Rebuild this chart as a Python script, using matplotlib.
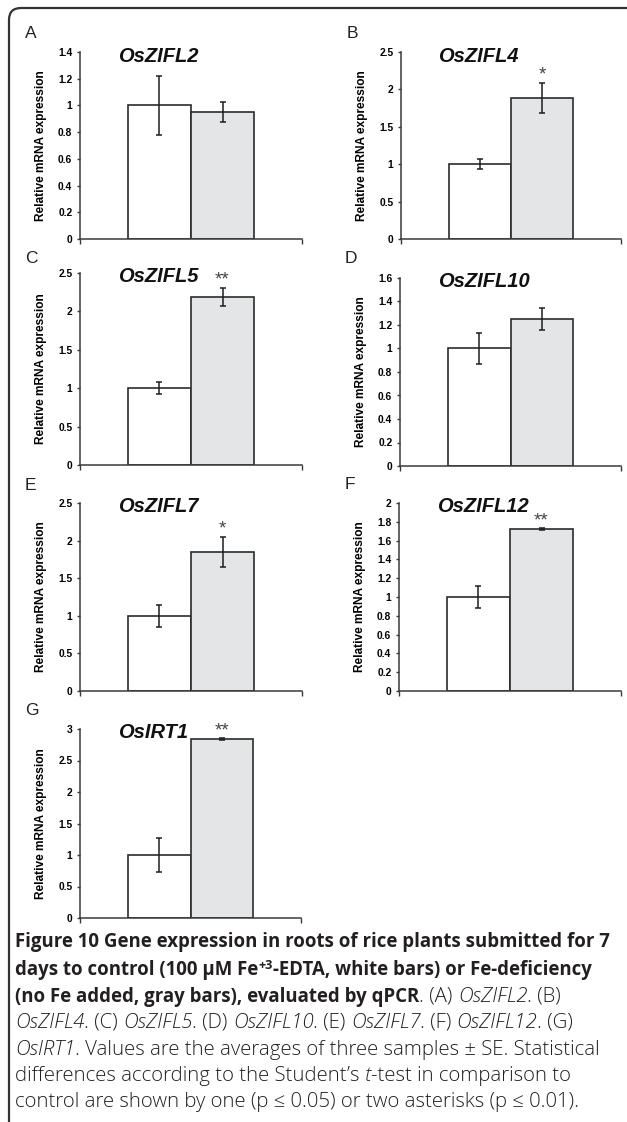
import numpy as np
import matplotlib
matplotlib.use("Agg")
import matplotlib.pyplot as plt
from matplotlib.path import Path
from matplotlib.patches import PathPatch
from matplotlib.font_manager import FontProperties

# ---------------- data ----------------
genes = ["OsZIFL2", "OsZIFL4", "OsZIFL5", "OsZIFL10", "OsZIFL7", "OsZIFL12", "OsIRT1"]
panel_letters = ["A", "B", "C", "D", "E", "F", "G"]
control_mean = [1.0, 1.0, 1.0, 1.0, 1.0, 1.0, 1.0]
control_se = [0.22, 0.07, 0.08, 0.13, 0.15, 0.12, 0.27]
deficiency_mean = [0.95, 1.89, 2.19, 1.25, 1.85, 1.72, 2.84]
deficiency_se = [0.075, 0.20, 0.12, 0.095, 0.20, 0.01, 0.01]
significance = ["", "*", "**", "", "*", "**", "**"]
y_max = [1.4, 2.5, 2.5, 1.6, 2.5, 2.0, 3.0]
y_step = [0.2, 0.5, 0.5, 0.2, 0.5, 0.2, 0.5]
y_label = "Relative mRNA expression"

# ---------------- layout (pixels) ----------------
W, H = 627, 1122
DPI = 100
# (left, right, top, bottom) of each axes in pixels
axes_px = [
    (80, 302, 52, 239),
    (401, 621, 52, 239),
    (80, 302, 273, 465),
    (400, 621, 278, 466),
    (80, 302, 503, 691),
    (399, 621, 503, 691),
    (80, 301, 729, 918),
]
letter_px = [(25, 38), (347, 38), (25, 263), (345, 263), (25, 490), (345, 489), (25, 715)]

WHITE = "#ffffff"
GRAY = "#e4e5e7"
EDGE = "#2b2b2b"
AXC = "#3a3a3a"

fig = plt.figure(figsize=(W / DPI, H / DPI), dpi=DPI)
fig.patch.set_facecolor("white")

tick_fp = FontProperties(family="Liberation Sans", weight="bold", size=7.4)
lab_fp = FontProperties(family="Liberation Sans", weight="bold", size=8.6)
title_fp = FontProperties(family="Liberation Sans", weight="bold", style="italic", size=14.5)
letter_fp = FontProperties(family="Liberation Sans", size=12.5)

bw = 0.284
for i in range(7):
    l, r, t, b = axes_px[i]
    ax = fig.add_axes([l / W, 1 - b / H, (r - l) / W, (b - t) / H])
    hpx = b - t
    xs = [0.5 - bw / 2, 0.5 + bw / 2]
    ax.bar(xs, [control_mean[i], deficiency_mean[i]], width=bw,
           color=[WHITE, GRAY], edgecolor=EDGE, linewidth=1.2, zorder=2)
    ax.errorbar(xs, [control_mean[i], deficiency_mean[i]],
                yerr=[control_se[i], deficiency_se[i]], fmt="none",
                ecolor="#1e1e1e", elinewidth=1.1, capsize=2.2, capthick=1.1, zorder=3)
    ax.set_xlim(0, 1)
    ax.set_ylim(0, y_max[i])
    ticks = np.round(np.arange(0, y_max[i] + y_step[i] / 2, y_step[i]), 2)
    ax.set_yticks(ticks)
    ax.set_yticklabels(["%g" % v for v in ticks], fontproperties=tick_fp)
    ax.set_xticks([0, 1])
    ax.set_xticklabels([])
    for s in ["top", "right"]:
        ax.spines[s].set_visible(False)
    for s in ["left", "bottom"]:
        ax.spines[s].set_color(AXC)
        ax.spines[s].set_linewidth(1.1)
    ax.tick_params(axis="both", direction="out", length=2.5, width=1.0, color=AXC, pad=3)
    ax.tick_params(axis="x", length=3.5)
    ax.set_ylabel(y_label, fontproperties=lab_fp)
    ax.yaxis.set_label_coords(-0.15, 0.5)
    ax.patch.set_alpha(0)
    ax.text(0.17, 1 - 4.0 / hpx, genes[i], transform=ax.transAxes,
            fontproperties=title_fp, ha="left", va="center", color="#111111")
    if significance[i]:
        ax.annotate(significance[i], xy=(xs[1], deficiency_mean[i] + deficiency_se[i]),
                    xytext=(0, 5.5), textcoords="offset points", ha="center", va="center",
                    fontsize=13.5, family="Liberation Sans", color="#444444")

for i, (x, y) in enumerate(letter_px):
    fig.text(x / W, 1 - y / H, panel_letters[i], fontproperties=letter_fp,
             ha="left", va="baseline", color="#222222")

# ---------------- border ----------------
verts = [(9, H), (9, 20), (9, 8), (21, 8), (W, 8)]
codes = [Path.MOVETO, Path.LINETO, Path.CURVE3, Path.CURVE3, Path.LINETO]
verts_n = [(vx / W, 1 - vy / H) for vx, vy in verts]
fig.add_artist(PathPatch(Path(verts_n, codes), transform=fig.transFigure,
                         fill=False, edgecolor="#333333", linewidth=1.6))

# ---------------- caption ----------------
renderer = fig.canvas.get_renderer()
CAPF = ["Open Sans", "DejaVu Sans"]


def fp_of(style, size):
    if style == "b":
        return FontProperties(family=CAPF, weight="bold", size=size)
    if style == "i":
        return FontProperties(family=CAPF, style="italic", weight="light", size=size)
    return FontProperties(family=CAPF, weight="light", size=size)


def advance(s, fp):
    w1 = renderer.get_text_width_height_descent("X" + s + "X", fp, False)[0]
    w2 = renderer.get_text_width_height_descent("XX", fp, False)[0]
    return w1 - w2


caption_lines = [
    [("Figure 10 Gene expression in roots of rice plants submitted for 7", "b")],
    [("days to control (100 µM Fe", "b"), ("+3", "bsup"), ("-EDTA, white bars) or Fe-deficiency", "b")],
    [("(no Fe added, gray bars), evaluated by qPCR", "b"), (". (A) ", "r"), ("OsZIFL2", "i"), (". (B)", "r")],
    [("OsZIFL4", "i"), (". (C) ", "r"), ("OsZIFL5", "i"), (". (D) ", "r"), ("OsZIFL10", "i"),
     (". (E) ", "r"), ("OsZIFL7", "i"), (". (F) ", "r"), ("OsZIFL12", "i"), (". (G)", "r")],
    [("OsIRT1", "i"), (". Values are the averages of three samples ± SE. Statistical", "r")],
    [("differences according to the Student\u2019s ", "r"), ("t", "i"), ("-test in comparison to", "r")],
    [("control are shown by one (p ≤ 0.05) or two asterisks (p ≤ 0.01).", "r")],
]
baselines = [947, 975, 1002, 1028, 1055, 1081, 1107]

ref = 10.0
bold_size = ref * 596.0 / advance(caption_lines[0][0][0], fp_of("b", ref))
reg_size = ref * 565.0 / advance(caption_lines[6][0][0], fp_of("r", ref))

for segs, yb in zip(caption_lines, baselines):
    x = 15.0
    for txt, st in segs:
        dy = 0
        if st == "bsup":
            fp = fp_of("b", bold_size * 0.68)
            dy = 6
        elif st == "b":
            fp = fp_of("b", bold_size)
        else:
            fp = fp_of(st, reg_size)
        fig.text(x / W, 1 - (yb - dy) / H, txt, fontproperties=fp,
                 ha="left", va="baseline", color="#231f20")
        x += advance(txt, fp)

fig.savefig("out.png", dpi=DPI, facecolor="white")
